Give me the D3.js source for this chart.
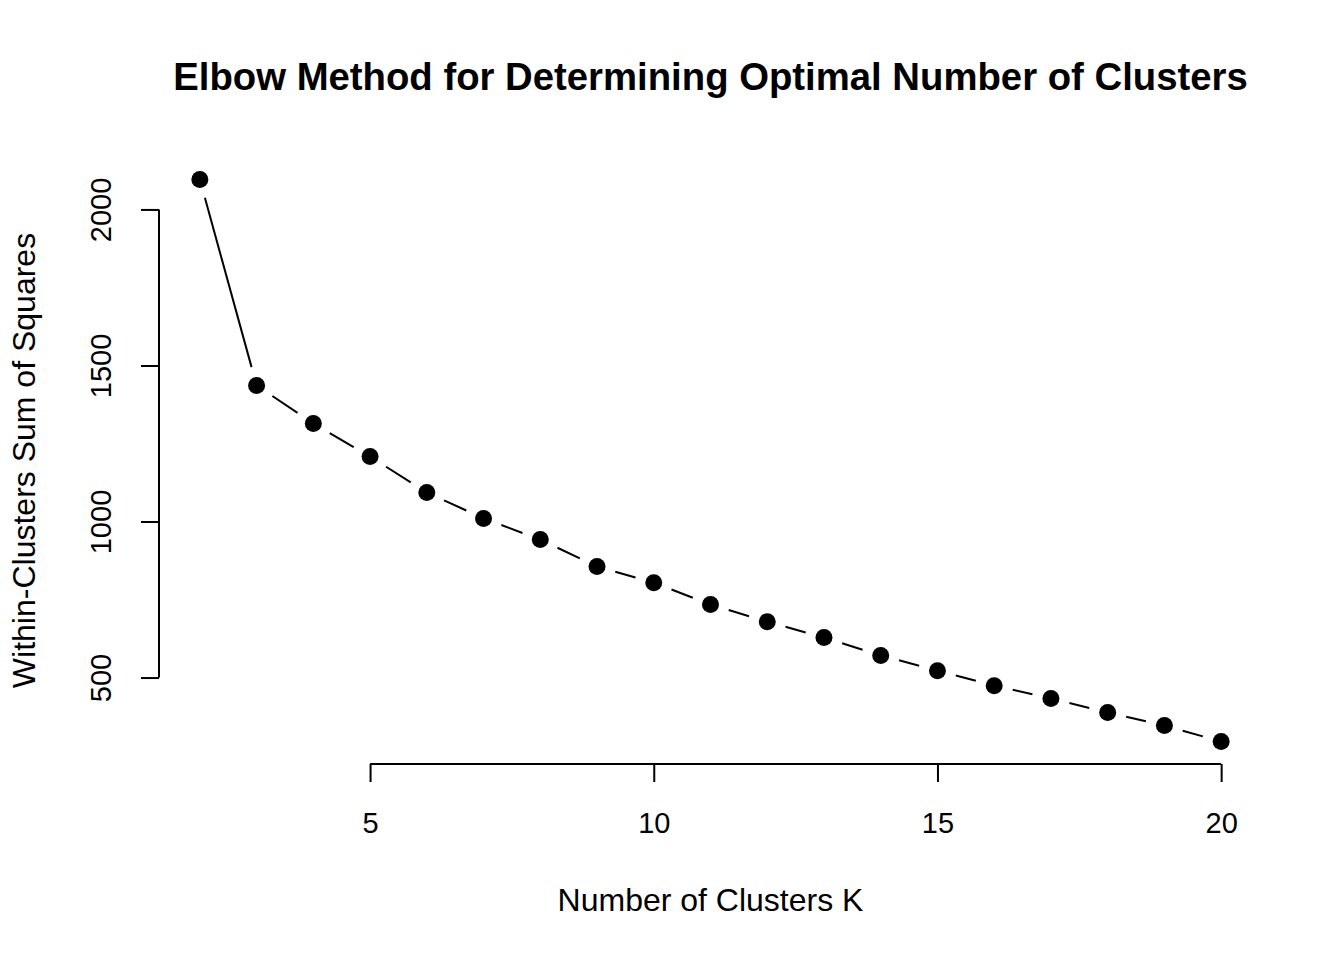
<!DOCTYPE html>
<html>
<head>
<meta charset="utf-8">
<script src="https://cdn.jsdelivr.net/npm/d3@7"></script>
<style>
  html, body { margin: 0; padding: 0; background: #fff; }
  svg { display: block; }
  text { font-family: "Liberation Sans", Arial, Helvetica, sans-serif; fill: #000; }
</style>
</head>
<body>
<svg id="chart" width="1344" height="960"></svg>
<script>
const kValues = [2, 3, 4, 5, 6, 7, 8, 9, 10, 11, 12, 13, 14, 15, 16, 17, 18, 19, 20];
const wssValues = [2096, 1436, 1314, 1208, 1093, 1010, 942, 856, 804, 734, 679, 628, 571, 522, 474, 433, 388, 346, 295];
const xTicks = [5, 10, 15, 20];
const yTicks = [500, 1000, 1500, 2000];
const titleText = "Elbow Method for Determining Optimal Number of Clusters";
const xLabel = "Number of Clusters K";
const yLabel = "Within-Clusters Sum of Squares";

const data = kValues.map((k, i) => ({ k, v: wssValues[i] }));
const svg = d3.select("#chart");

// plot region (R style, 4% extended ranges)
const plot = { left: 159, right: 1262, top: 157, bottom: 764 };
const ext = (lo, hi) => { const d = (hi - lo) * 0.04; return [lo - d, hi + d]; };
const x = d3.scaleLinear().domain(ext(d3.min(kValues), d3.max(kValues))).range([plot.left, plot.right]);
const y = d3.scaleLinear().domain(ext(d3.min(wssValues), d3.max(wssValues))).range([plot.bottom, plot.top]);

const fs = 29;
const labFs = 32;
const fmt = d3.format("d");

// X axis
const gx = svg.append("g").attr("transform", `translate(0,${plot.bottom})`)
  .call(d3.axisBottom(x).tickValues(xTicks).tickFormat(fmt).tickSize(18).tickSizeOuter(0));
gx.select(".domain").attr("d", `M${x(xTicks[0])},0H${x(xTicks[xTicks.length - 1])}`)
  .attr("stroke", "#000").attr("stroke-width", 2);
gx.selectAll(".tick line").attr("stroke", "#000").attr("stroke-width", 2);
gx.selectAll(".tick text").attr("y", 69).attr("dy", 0)
  .style("font-size", fs + "px").style("font-family", '"Liberation Sans", Arial, sans-serif').attr("fill", "#000");

// Y axis
const gy = svg.append("g").attr("transform", `translate(${plot.left},0)`)
  .call(d3.axisLeft(y).tickValues(yTicks).tickFormat(fmt).tickSize(18).tickSizeOuter(0));
gy.select(".domain").attr("d", `M0,${y(yTicks[0])}V${y(yTicks[yTicks.length - 1])}`)
  .attr("stroke", "#000").attr("stroke-width", 2);
gy.selectAll(".tick line").attr("stroke", "#000").attr("stroke-width", 2);
gy.selectAll(".tick text")
  .attr("x", null).attr("dy", null)
  .attr("transform", "translate(-48,0) rotate(-90)")
  .attr("text-anchor", "middle")
  .style("font-size", fs + "px").style("font-family", '"Liberation Sans", Arial, sans-serif').attr("fill", "#000");
gy.attr("font-size", null);
gx.attr("font-size", null);

// Line segments with gaps around points (type = "b")
const gap = 19;
const segs = [];
for (let i = 0; i < data.length - 1; i++) {
  const x0 = x(data[i].k), y0 = y(data[i].v), x1 = x(data[i + 1].k), y1 = y(data[i + 1].v);
  const dx = x1 - x0, dy = y1 - y0, len = Math.hypot(dx, dy);
  if (len > 2 * gap) {
    const ux = dx / len, uy = dy / len;
    segs.push([x0 + ux * gap, y0 + uy * gap, x1 - ux * gap, y1 - uy * gap]);
  }
}
svg.append("g").selectAll("line").data(segs).join("line")
  .attr("x1", d => d[0]).attr("y1", d => d[1]).attr("x2", d => d[2]).attr("y2", d => d[3])
  .attr("stroke", "#000").attr("stroke-width", 2);

// Points
svg.append("g").selectAll("circle").data(data).join("circle")
  .attr("cx", d => x(d.k)).attr("cy", d => y(d.v)).attr("r", 8.5).attr("fill", "#000");

// Title & labels
const cx = (plot.left + plot.right) / 2;
const cy = (plot.top + plot.bottom) / 2;
svg.append("text").attr("x", cx).attr("y", 90).attr("text-anchor", "middle")
  .style("font-size", "38.3px").style("font-weight", "bold").text(titleText);
svg.append("text").attr("x", cx).attr("y", 911).attr("text-anchor", "middle")
  .style("font-size", labFs + "px").text(xLabel);
svg.append("text").attr("transform", `translate(35,${cy}) rotate(-90)`).attr("text-anchor", "middle")
  .style("font-size", labFs + "px").text(yLabel);
</script>
</body>
</html>
